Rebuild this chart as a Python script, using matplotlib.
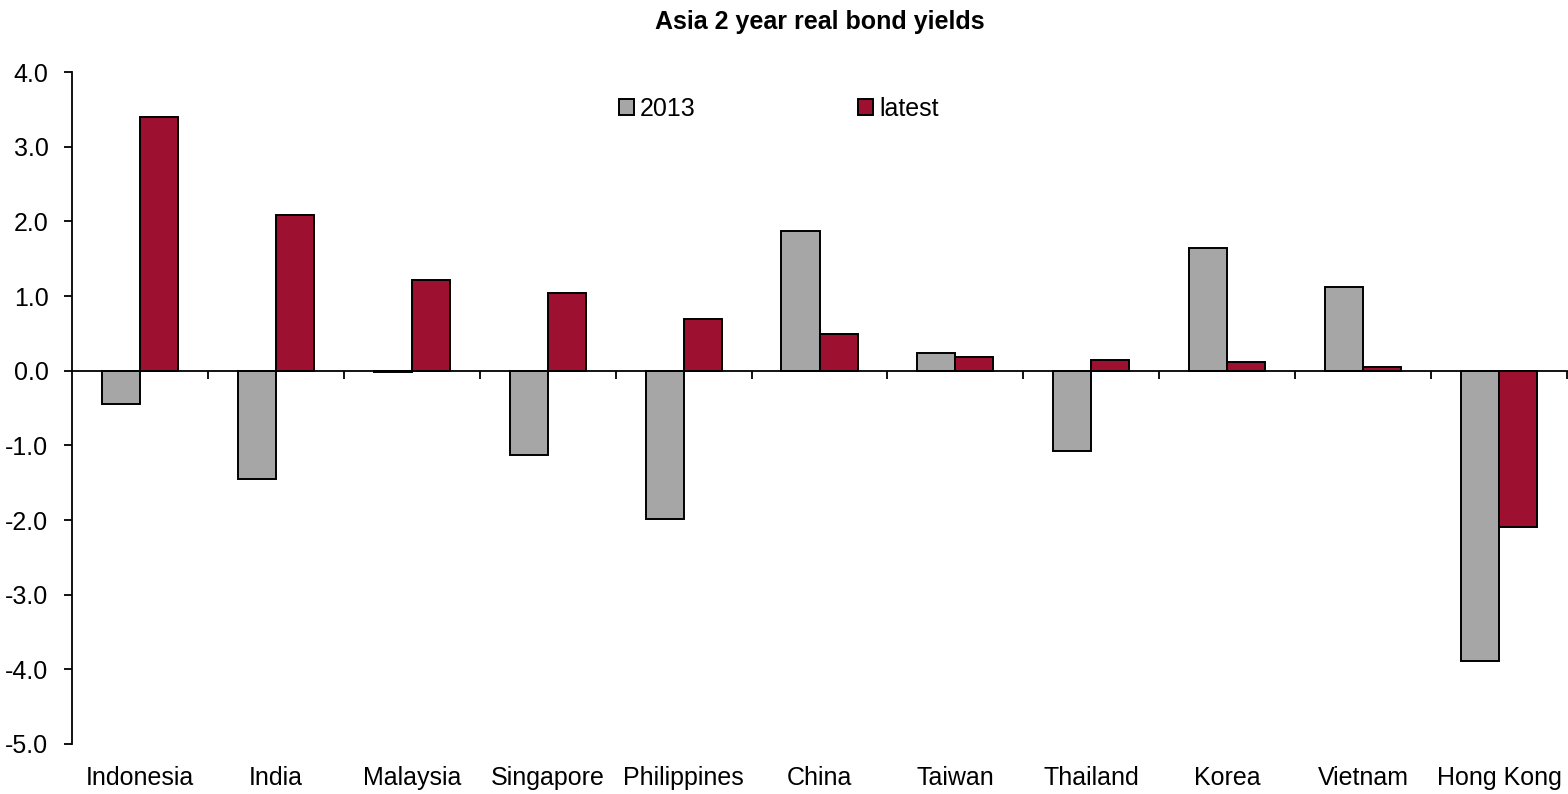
import numpy as np
import matplotlib.pyplot as plt
from matplotlib.ticker import FormatStrFormatter

countries = ['Indonesia', 'India', 'Malaysia', 'Singapore', 'Philippines', 'China',
             'Taiwan', 'Thailand', 'Korea', 'Vietnam', 'Hong Kong']
y2013 = [-0.45, -1.45, -0.02, -1.13, -1.99, 1.87, 0.24, -1.08, 1.64, 1.12, -3.89]
latest = [3.40, 2.09, 1.21, 1.04, 0.69, 0.49, 0.18, 0.14, 0.12, 0.05, -2.09]

plt.rcParams['font.family'] = ['Liberation Sans', 'DejaVu Sans']

fig = plt.figure(figsize=(15.68, 7.94), dpi=100)
ax = fig.add_axes([72/1568, 1-744/794, 1-73/1568, 672/794])

x = np.arange(len(countries))
w = 0.28
ax.bar(x - w/2, y2013, w, color='#A6A6A6', edgecolor='black', linewidth=1.4, label='2013')
ax.bar(x + w/2, latest, w, color='#9E1030', edgecolor='black', linewidth=1.4, label='latest')

ax.set_xlim(-0.5, len(countries) - 0.5)
ax.set_ylim(-5, 4)
ax.set_yticks(np.arange(-5, 4.1, 1))
ax.yaxis.set_major_formatter(FormatStrFormatter('%.1f'))
ax.tick_params(axis='y', direction='out', length=6, width=1.3, labelsize=18, pad=11)

# x axis sits on the zero line, ticks between categories
for s in ['top', 'right']:
    ax.spines[s].set_visible(False)
ax.spines['left'].set_linewidth(1.3)
ax.spines['bottom'].set_position(('data', 0))
ax.spines['bottom'].set_linewidth(1.3)
ax.set_xticks(x + 0.5)
ax.set_xticklabels([])
ax.tick_params(axis='x', direction='out', length=6, width=1.3)

for i, c in enumerate(countries):
    ax.text(i, -0.033, c, transform=ax.get_xaxis_transform(), ha='center', va='top', fontsize=18)

ax.set_title('Asia 2 year real bond yields', fontsize=18, fontweight='bold', x=0.5, pad=31)

ax.legend(loc='upper left', bbox_to_anchor=(0.366, 0.963), ncol=2, frameon=False, fontsize=18,
          handlelength=0.6, handleheight=0.6, handletextpad=0.24, columnspacing=6.5,
          borderaxespad=0, borderpad=0)

fig.savefig('out.png', dpi=100)
